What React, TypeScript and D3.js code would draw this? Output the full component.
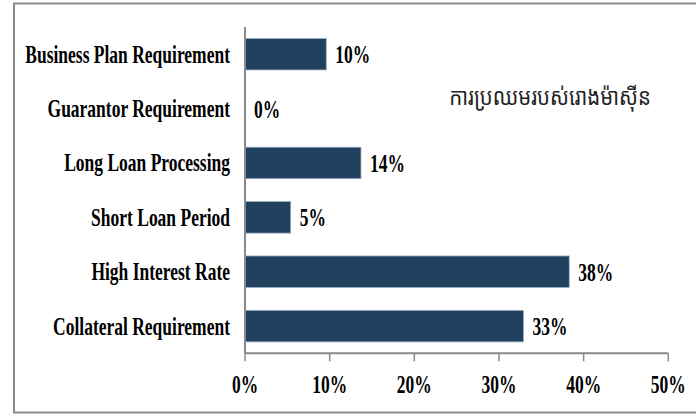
import React from "react";
import * as d3 from "d3";

const categories = [
  "Business Plan Requirement",
  "Guarantor Requirement",
  "Long Loan Processing",
  "Short Loan Period",
  "High Interest Rate",
  "Collateral Requirement",
];
const values = [9.6, 0, 13.7, 5.4, 38.3, 32.9];
const valueLabels = ["10%", "0%", "14%", "5%", "38%", "33%"];
const xTicks = [0, 10, 20, 30, 40, 50];
const title = "ការប្រឈមរបស់រោងម៉ាស៊ីន";

const W = 696;
const H = 416;
const left = 245;
const right = 668.3;
const top = 27;
const bottom = 353.3;
const SX = 0.7;
const serif = "'Liberation Serif', 'Times New Roman', serif";

export default function App() {
  const x = d3.scaleLinear().domain([0, 50]).range([left, right]);
  const y = d3.scaleBand<string>().domain(categories).range([top, bottom]).paddingInner(0.42).paddingOuter(0.21);
  const bw = y.bandwidth();

  return (
    <svg width={W} height={H} style={{ position: "absolute", left: 0, top: 0, background: "#fff" }}>
      <rect x={14} y={3.5} width={W + 10} height={409} fill="#fff" stroke="#8c8c8c" strokeWidth={2} />
      {categories.map((c, i) => (
        <rect
          key={c}
          x={x(0)}
          y={y(c)!}
          width={x(values[i]) - x(0)}
          height={bw}
          fill="#21415f"
          stroke="#9fb1c6"
          strokeWidth={values[i] > 0 ? 0.8 : 0}
        />
      ))}
      <line x1={left} x2={left} y1={top} y2={bottom} stroke="#8a8a8a" strokeWidth={2} />
      <line x1={left} x2={right} y1={bottom} y2={bottom} stroke="#8a8a8a" strokeWidth={2} />
      {xTicks.map((t) => (
        <g key={t}>
          <line x1={x(t)} x2={x(t)} y1={bottom} y2={bottom + 8} stroke="#8a8a8a" strokeWidth={1.5} />
          <g transform={`translate(${x(t)},${393}) scale(${SX},1)`}>
            <text textAnchor="middle" fontFamily={serif} fontWeight="bold" fontSize={25} fill="#000">
              {t}%
            </text>
          </g>
        </g>
      ))}
      {categories.map((c, i) => (
        <g key={"l" + c}>
          <g transform={`translate(${left - 15},${y(c)! + bw / 2 + 8.5}) scale(${SX},1)`}>
            <text textAnchor="end" fontFamily={serif} fontWeight="bold" fontSize={25} fill="#000">
              {c}
            </text>
          </g>
          <g transform={`translate(${x(values[i]) + 9},${y(c)! + bw / 2 + 9}) scale(${SX},1)`}>
            <text textAnchor="start" fontFamily={serif} fontWeight="bold" fontSize={25} fill="#000">
              {valueLabels[i]}
            </text>
          </g>
        </g>
      ))}
      <g transform={`translate(651,105) scale(0.85,1)`}>
        <text textAnchor="end" fontFamily="'Noto Sans Khmer', 'Khmer OS', 'Noto Serif Khmer', 'Noto Sans', sans-serif" fontSize={24} fill="#222">
          {title}
        </text>
      </g>
    </svg>
  );
}
